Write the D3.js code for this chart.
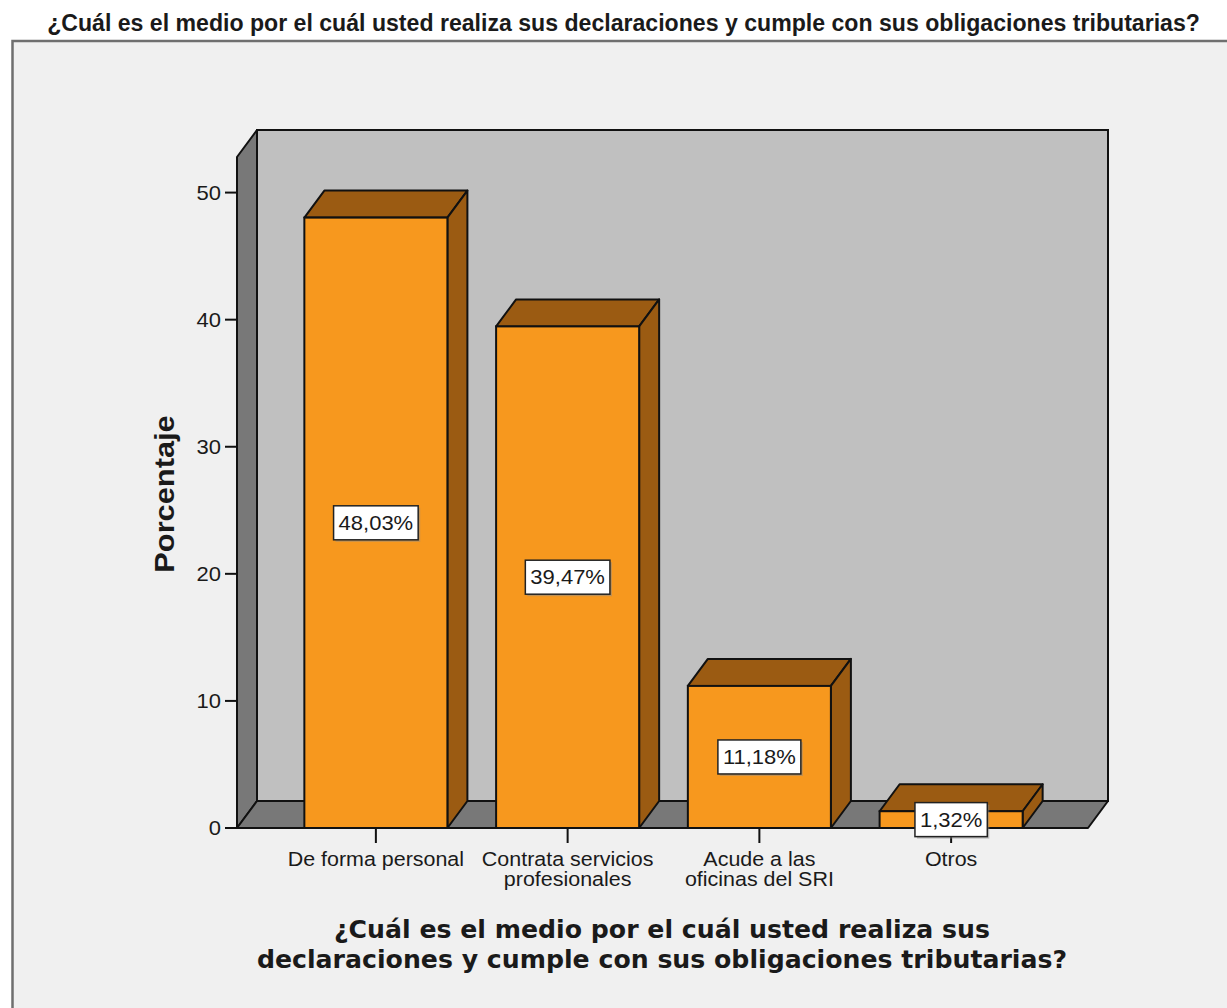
<!DOCTYPE html>
<html>
<head>
<meta charset="utf-8">
<script src="https://cdn.jsdelivr.net/npm/d3@7"></script>
<style>
  html, body { margin: 0; padding: 0; background: #ffffff; }
  svg { display: block; }
  text { font-family: "Liberation Sans", Arial, sans-serif; fill: #1a1a1a; }
</style>
</head>
<body>
<svg id="chart" width="1227" height="1008"></svg>
<script>
// Survey answers: share of respondents (%) by channel used to file and pay taxes
const categories = [
  ["De forma personal"],
  ["Contrata servicios", "profesionales"],
  ["Acude a las", "oficinas del SRI"],
  ["Otros"]
];
const categoryKeys = ["personal", "contrata", "acude", "otros"];
const percentages = [48.03, 39.47, 11.18, 1.32];
const valueLabels = ["48,03%", "39,47%", "11,18%", "1,32%"];
const yTicks = [0, 10, 20, 30, 40, 50];
const chartTitle = "¿Cuál es el medio por el cuál usted realiza sus declaraciones y cumple con sus obligaciones tributarias?";
const xTitleLines = ["¿Cuál es el medio por el cuál usted realiza sus", "declaraciones y cumple con sus obligaciones tributarias?"];
const yTitle = "Porcentaje";

const svg = d3.select("#chart");
const STRETCH = 1.1;       // the SPSS output font renders a little wide
const depth = { dx: 20, dy: -27 };   // 3D extrusion offset

// Outer chart frame
svg.append("rect")
  .attr("x", 12.5).attr("y", 41)
  .attr("width", 1260).attr("height", 1000)
  .attr("fill", "#f0f0f0")
  .attr("stroke", "#6f6f6f").attr("stroke-width", 2.5);

// Title: bold, horizontally condensed to span the page width
const title = svg.append("text")
  .attr("text-anchor", "middle")
  .style("font-weight", "bold")
  .style("font-size", "23px")
  .text(chartTitle);
const titleScale = 1153 / title.node().getComputedTextLength();
title.attr("transform", `translate(623.5,31) scale(${titleScale},1)`);

// Scales
const y = d3.scaleLinear().domain([0, 52.8]).range([828, 157]);
const x = d3.scalePoint().domain(categoryKeys).range([280, 1047]).padding(0.5);
const barW = x.step() * 0.746;

const floorY = y(0);
const plotLeft = 237, plotRight = 1088;
const topY = y(52.8);

// Back wall
svg.append("rect")
  .attr("x", plotLeft + depth.dx).attr("y", topY + depth.dy)
  .attr("width", plotRight - plotLeft).attr("height", floorY - topY)
  .attr("fill", "#c0c0c0").attr("stroke", "#111").attr("stroke-width", 2);

const poly = pts => pts.map(p => p.join(",")).join(" ");

// Left side wall
svg.append("polygon")
  .attr("points", poly([[plotLeft, topY], [plotLeft + depth.dx, topY + depth.dy],
                        [plotLeft + depth.dx, floorY + depth.dy], [plotLeft, floorY]]))
  .attr("fill", "#787878").attr("stroke", "#111").attr("stroke-width", 2).attr("stroke-linejoin", "round");

// Floor
svg.append("polygon")
  .attr("points", poly([[plotLeft, floorY], [plotLeft + depth.dx, floorY + depth.dy],
                        [plotRight + depth.dx, floorY + depth.dy], [plotRight, floorY]]))
  .attr("fill", "#787878").attr("stroke", "#111").attr("stroke-width", 2).attr("stroke-linejoin", "round");

// Y axis ticks and labels
const yAxis = svg.append("g");
yTicks.forEach(t => {
  yAxis.append("line")
    .attr("x1", plotLeft - 12).attr("x2", plotLeft)
    .attr("y1", y(t)).attr("y2", y(t))
    .attr("stroke", "#111").attr("stroke-width", 2);
  yAxis.append("text")
    .attr("transform", `translate(${plotLeft - 16},${y(t) + 7}) scale(${STRETCH},1)`)
    .attr("text-anchor", "end")
    .style("font-size", "20px")
    .text(t);
});

// Bars (front, top and right faces)
const bars = svg.append("g");
percentages.forEach((v, i) => {
  const cx = x(categoryKeys[i]);
  const x0 = cx - barW / 2, x1 = cx + barW / 2;
  const yt = y(v);
  const g = bars.append("g");
  g.append("polygon")
    .attr("points", poly([[x0, yt], [x0 + depth.dx, yt + depth.dy], [x1 + depth.dx, yt + depth.dy], [x1, yt]]))
    .attr("fill", "#9b5b12").attr("stroke", "#111").attr("stroke-width", 2).attr("stroke-linejoin", "round");
  g.append("polygon")
    .attr("points", poly([[x1, yt], [x1 + depth.dx, yt + depth.dy], [x1 + depth.dx, floorY + depth.dy], [x1, floorY]]))
    .attr("fill", "#9b5b12").attr("stroke", "#111").attr("stroke-width", 2).attr("stroke-linejoin", "round");
  g.append("rect")
    .attr("x", x0).attr("y", yt).attr("width", barW).attr("height", floorY - yt)
    .attr("fill", "#f7981e").attr("stroke", "#111").attr("stroke-width", 2);
});

// Front floor edge
svg.append("line")
  .attr("x1", plotLeft - 2).attr("x2", plotRight)
  .attr("y1", floorY).attr("y2", floorY)
  .attr("stroke", "#111").attr("stroke-width", 2);

// X axis ticks and category labels
const xAxis = svg.append("g");
categories.forEach((lines, i) => {
  const cx = x(categoryKeys[i]);
  xAxis.append("line")
    .attr("x1", cx).attr("x2", cx).attr("y1", floorY).attr("y2", floorY + 15)
    .attr("stroke", "#111").attr("stroke-width", 2);
  lines.forEach((ln, j) => {
    xAxis.append("text")
      .attr("transform", `translate(${cx},${866 + j * 20}) scale(${STRETCH},1)`)
      .attr("text-anchor", "middle")
      .style("font-size", "19.5px")
      .text(ln);
  });
});

// Value labels in white boxes at the middle of each bar
const labels = svg.append("g");
percentages.forEach((v, i) => {
  const cx = x(categoryKeys[i]);
  const cy = (y(v) + floorY) / 2;
  const g = labels.append("g");
  const t = g.append("text")
    .attr("transform", `translate(${cx},${cy + 7}) scale(${STRETCH},1)`)
    .attr("text-anchor", "middle")
    .style("font-size", "20px")
    .text(valueLabels[i]);
  const w = t.node().getComputedTextLength() * STRETCH + 10;
  const h = 34;
  g.insert("rect", "text")
    .attr("x", cx - w / 2 + 2).attr("y", cy - h / 2 + 2).attr("width", w).attr("height", h)
    .attr("fill", "#8a8a8a").attr("opacity", 0.5);
  g.insert("rect", "text")
    .attr("x", cx - w / 2).attr("y", cy - h / 2).attr("width", w).attr("height", h)
    .attr("fill", "#ffffff").attr("stroke", "#222").attr("stroke-width", 1.5);
});

// Axis titles
svg.append("text")
  .attr("transform", `translate(174,494) rotate(-90) scale(${STRETCH},1)`)
  .attr("text-anchor", "middle")
  .style("font-size", "28px").style("font-weight", "bold")
  .text(yTitle);

xTitleLines.forEach((ln, j) => {
  svg.append("text")
    .attr("transform", `translate(662,${938 + j * 30}) scale(1.05,1)`)
    .attr("text-anchor", "middle")
    .style("font-family", "'DejaVu Sans', Verdana, sans-serif")
    .style("font-size", "24px").style("font-weight", "bold")
    .text(ln);
});
</script>
</body>
</html>
